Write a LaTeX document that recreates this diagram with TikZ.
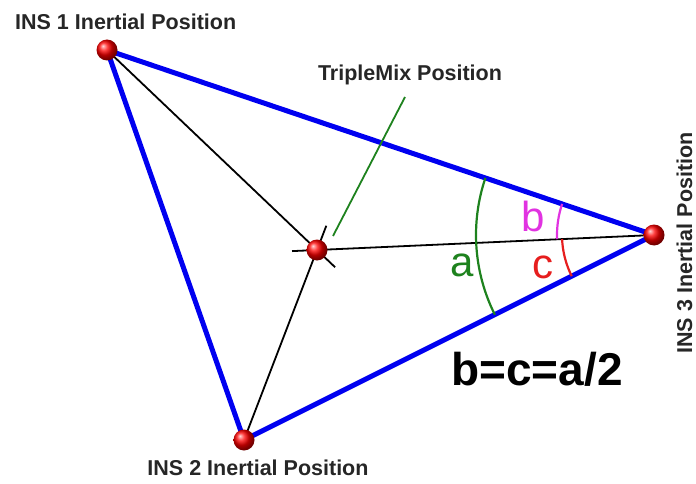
\documentclass[tikz,border=0pt]{standalone}
\usepackage{fontspec}
\setmainfont{Liberation Sans}
\usetikzlibrary{calc,backgrounds}
\definecolor{ablue}{RGB}{0,0,240}
\definecolor{agreen}{RGB}{30,130,30}
\definecolor{amag}{RGB}{225,50,225}
\definecolor{ared}{RGB}{230,30,30}
\tikzset{
  ball/.style={circle,minimum size=21pt,inner sep=0pt,shading=ball,ball color=red},
  side/.style={draw=ablue,line width=5pt,line cap=round},
  spoke/.style={draw=black,line width=1.8pt},
  lbl/.style={font=\bfseries\fontsize{21.5}{24}\selectfont,inner sep=0pt,text=black!85},
  anglbl/.style={font=\fontsize{42}{48}\selectfont,inner sep=0pt}
}
\begin{document}
\begin{tikzpicture}[x=1pt,y=1pt]
\useasboundingbox (0,0) rectangle (696,483);
\node[ball] (P1) at (107,433) {};
\node[ball] (P2) at (244,43) {};
\node[ball] (P3) at (654,248) {};
\node[ball] (M) at (317,233) {};
\coordinate (G1) at (405,386);
\coordinate (G2) at (333,247);
\begin{scope}[on background layer]
  \draw[side] (P1.center) -- (P3.center) -- (P2.center) -- cycle;
  \draw[spoke] (P1.center) -- ($(M.center)!-25pt!(P1.center)$);
  \draw[spoke] (P2.center) -- ($(M.center)!-26pt!(P2.center)$);
  \draw[spoke] (P3.center) -- ($(M.center)!-25pt!(P3.center)$);
  \draw[agreen,line width=1.8pt] (G1) -- (G2);
  \draw[agreen,line width=2.2pt] ([shift={(161.3:178pt)}]P3.center) arc[start angle=161.3,end angle=206.6,radius=178pt];
  \draw[amag,line width=2.2pt] ([shift={(161.3:97pt)}]P3.center) arc[start angle=161.3,end angle=182.5,radius=97pt];
  \draw[ared,line width=2.2pt] ([shift={(182.5:92pt)}]P3.center) arc[start angle=182.5,end angle=206.6,radius=92pt];
\end{scope}
\node[lbl,anchor=base west] (L1) at (15,453) {INS 1 Inertial Position};
\node[lbl,anchor=base] (L2) at (258,8) {INS 2 Inertial Position};
\node[lbl,rotate=90] (L3) at (684.5,240) {INS 3 Inertial Position};
\node[lbl] (LM) at (410,408) {TripleMix Position};
\node[anglbl,text=agreen] (A) at (462,218) {a};
\node[anglbl,text=amag] (B) at (533,267) {b};
\node[anglbl,text=ared] (C) at (543,216) {c};
\node[font=\bfseries\fontsize{46}{50}\selectfont,inner sep=0pt,anchor=base] (EQ) at (537,98) {b=c=a/2};
\end{tikzpicture}
\end{document}
